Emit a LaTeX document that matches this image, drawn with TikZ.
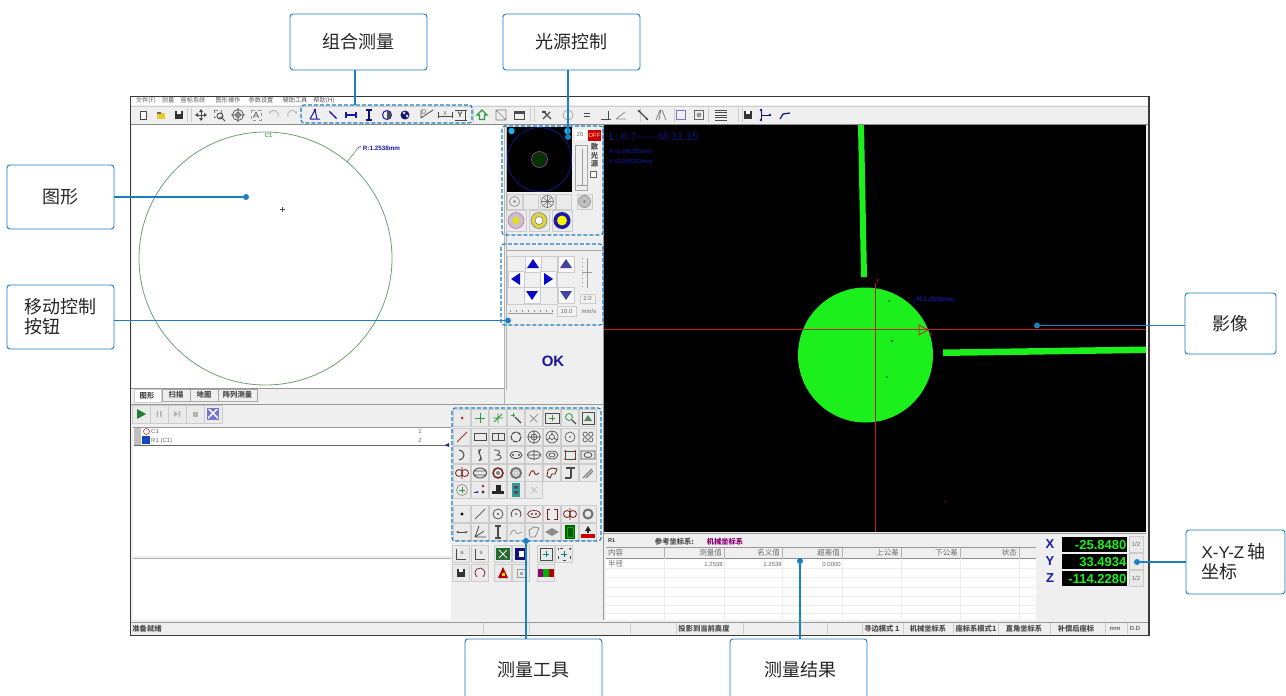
\documentclass[tikz,border=0pt]{standalone}
\usepackage{fontspec}
\setmainfont{Noto Sans CJK SC}
\newfontfamily\lib{Liberation Sans}
\usetikzlibrary{arrows.meta}
\definecolor{callblue}{HTML}{1B7FC4}
\definecolor{winbg}{HTML}{EFEFEF}
\definecolor{btnbg}{HTML}{EAEAEA}
\definecolor{btnln}{HTML}{CCCCCC}
\definecolor{edge}{HTML}{3C3A38}
\definecolor{txtg}{HTML}{6A6A6A}
\definecolor{navy}{HTML}{1A1AA8}
\definecolor{arrowb}{HTML}{0A0AC8}
\definecolor{dimnavy}{HTML}{12127E}
\definecolor{lime}{HTML}{1CF01C}
\definecolor{crossred}{HTML}{C02020}
\definecolor{circg}{HTML}{6F9F76}
\definecolor{icg}{HTML}{4A4A4A}
\definecolor{icr}{HTML}{A83030}
\definecolor{icgr}{HTML}{2E9A3E}
\tikzset{
  callout/.style={draw=callblue,fill=white,line width=0.9pt,rounded corners=3pt,inner sep=0pt,font=\fontsize{18}{20}\selectfont,text=black!85},
  calltext/.style={inner sep=0pt,font=\fontsize{18}{20}\selectfont,text=black!85},
  conn/.style={draw=callblue,line width=1.1pt},
  cdot/.style={circle,fill=callblue,minimum size=6pt,inner sep=0pt},
  dashbox/.style={draw=callblue,line width=1.1pt,dash pattern=on 4pt off 2pt,rounded corners=3pt},
  btn/.style={fill=btnbg,draw=btnln,line width=0.5pt},
  tiny/.style={inner sep=0pt,font=\fontsize{6.2}{7}\selectfont,text=black!65},
  st/.style={inner sep=0pt,font=\fontsize{7.3}{8}\selectfont\bfseries,text=black!70},
  tinyl/.style={inner sep=0pt,font=\fontsize{6}{7}\selectfont\lib,text=txtg},
  lcd/.style={inner sep=0pt,font=\fontsize{13}{14}\selectfont\lib\bfseries,text=lime,anchor=east},
  axl/.style={inner sep=0pt,font=\fontsize{13}{14}\selectfont\lib\bfseries,text=navy},
  ico/.style={line width=0.9pt,draw=icg},
}
\newcount\lbn
\newcommand\lb[4][tiny]{\global\advance\lbn 1 \node[#1,#2] (lb\the\lbn) #3 {#4};}
\newcommand\ic[3]{\begin{scope}[shift={(#1,#2)}]#3\end{scope}}
\newcommand\tb[3]{\begin{scope}[shift={(#1,#2)}]\path[btn] (-8.5,-8.5) rectangle (8.5,8.5);#3\end{scope}}
\begin{document}
\begin{tikzpicture}[x=1pt,y=-1pt]
\useasboundingbox (0,0) rectangle (1286,696);
\clip (0,0) rectangle (1286,696);
\fill[white] (0,0) rectangle (1286,696);
% window
\fill[winbg] (130,96) rectangle (1149,636);
\fill[white] (131,97) rectangle (1148,105);
% menu
\lb{}{at (146,100.5)}{文件(F)}
\lb{}{at (168,100.5)}{测量}
\lb{}{at (193,100.5)}{座标系统}
\lb{}{at (228,100.5)}{图形操作}
\lb{}{at (261,100.5)}{参数设置}
\lb{}{at (295,100.5)}{辅助工具}
\lb{}{at (324,100.5)}{帮助(H)}
% toolbar
\draw[btnln] (131,106) -- (1148,106);
\draw[black!45,line width=.8pt] (131,124.5) -- (1148,124.5);
\foreach \x in {187,191,473,530,534,640,674,708,738,742}{\draw[btnln] (\x,108) -- (\x,122);}
\ic{143}{115}{\draw[icg,line width=.7pt,fill=white] (-3,-4) rectangle (3,4);}
\ic{161}{115}{\fill[yellow!60!brown] (-4,-2) rectangle (4,4);\fill[black!60] (-4,-3) rectangle (0,-1);}
\ic{179}{115}{\fill[black!80] (-4,-4) rectangle (4,4);\fill[white] (-2,-4) rectangle (2,-1);}
\ic{201}{115}{\draw[ico] (-5,0) -- (5,0) (0,-5) -- (0,5);\fill[icg] (-6,0)--(-3,-2)--(-3,2)--cycle (6,0)--(3,-2)--(3,2)--cycle (0,-6)--(-2,-3)--(2,-3)--cycle (0,6)--(-2,3)--(2,3)--cycle;}
\ic{219}{115}{\draw[black!50,dashed,line width=.5pt] (-5,-5) rectangle (2,2);\draw[icg,line width=.9pt] (1,1) circle[radius=3] (3,3) -- (6,6);}
\ic{238}{115}{\draw[ico,line width=.7pt] (0,0) circle[radius=5.5] (0,0) circle[radius=2.5] (-7,0) -- (7,0) (0,-7) -- (0,7);}
\ic{256}{115}{\draw[black!40,dashed,line width=.5pt] (-5,-5) rectangle (5,5);\lb[inner sep=0pt,font=\fontsize{9}{9}\selectfont\lib,text=icg]{}{at (0,0)}{A}}
\ic{274}{115}{\draw[black!30,line width=.8pt,-{Stealth[length=3pt]}] (4,2) arc[start angle=27,end angle=-170,radius=4.5];}
\ic{292}{115}{\draw[black!30,line width=.8pt,-{Stealth[length=3pt]}] (-4,2) arc[start angle=153,end angle=350,radius=4.5];}
% combined measurement icons
\ic{315}{115}{\draw[navy,line width=1pt] (-5,4) -- (5,4) (-5,4) -- (0,-5) -- (2,4);\fill[navy] (0,-5) circle[radius=1.3];}
\ic{333}{115}{\draw[navy,line width=1.3pt,{Stealth[length=3pt]}-{Stealth[length=3pt]}] (-4,-4) -- (4,4);}
\ic{351}{115}{\draw[navy,line width=1.3pt] (-5,-3) -- (-5,3) (5,-3) -- (5,3) (-5,0) -- (5,0);}
\ic{369}{115}{\draw[navy!70!black,line width=1.3pt] (-3,-5) -- (3,-5) (-3,5) -- (3,5) (0,-5) -- (0,5);}
\ic{387}{115}{\draw[navy,line width=1pt] (0,0) circle[radius=4.5];\fill[black!70] (0,-4) arc[start angle=-90,end angle=90,radius=4] -- cycle;}
\ic{405}{115}{\fill[navy!70!black] (0,0) circle[radius=4.5];\fill[white!80!gray] (-1,-2) circle[radius=1.5] (2,1) circle[radius=1.5];}
\ic{427}{115}{\draw[icg,line width=.8pt] (-6,-5) -- (-6,3) (-6,3) -- (6,-5);\lb[tinyl,font=\fontsize{7}{7}\selectfont\lib]{}{at (-3,-3)}{D}}
\ic{445}{115}{\draw[icg,line width=.8pt] (-7,-3) -- (-7,3) (7,-3) -- (7,3) (-7,1) -- (7,1);\lb[tinyl,font=\fontsize{6}{7}\selectfont\lib]{}{at (0,-2)}{X}}
\ic{461}{115}{\draw[icg,line width=.8pt] (-6,-5) -- (6,-5) (-6,5) -- (6,5) (4,-5) -- (4,5);\lb[tinyl,font=\fontsize{8}{8}\selectfont\lib\bfseries,text=icg]{}{at (-1,0)}{Y}}
\ic{482}{115}{\draw[icgr,line width=1.1pt] (0,-5) -- (5,0) -- (2.5,0) -- (2.5,4.5) -- (-2.5,4.5) -- (-2.5,0) -- (-5,0) -- cycle;}
\ic{501}{115}{\draw[black!50,line width=.6pt] (-5,-5) rectangle (5,5) (-5,-5) -- (5,5);}
\ic{519}{115}{\draw[black!70,line width=.7pt] (-5,-4) rectangle (5,4);\fill[black!70] (-5,-4) rectangle (5,-1);}
\ic{547}{115}{\draw[icg,line width=1.1pt] (-4,4) -- (3,-3) (-4,-4) -- (4,4);\fill[icg] (-5,-4) rectangle (-1,-2);}
\ic{568}{115}{\draw[black!30,line width=.9pt] (0,0) circle[radius=5];}
\ic{587}{115}{\draw[icg,line width=1pt] (-3,-1.5) -- (3,-1.5) (-3,1.5) -- (3,1.5);}
\ic{606}{115}{\draw[icg,line width=1pt] (-5,4) -- (5,4) (2,-4) -- (2,4);}
\ic{621}{115}{\draw[black!45,line width=.8pt] (-5,4) -- (5,4) (-5,4) -- (4,-3);}
\ic{643}{115}{\draw[icg,line width=1.1pt] (-4,-4) -- (4,4);\fill[icg] (-4,-4) circle[radius=1.4] (4,4) circle[radius=1.4];}
\ic{661}{115}{\draw[black!50,line width=.8pt] (-5,5) -- (-1,-5) (1,-5) -- (5,5) (-2,5) -- (-.2,-5);}
\ic{681}{115}{\draw[navy!60,line width=1pt] (-4.5,-4.5) rectangle (4.5,4.5);}
\ic{699}{115}{\draw[black!60,line width=.8pt] (-4.5,-4.5) rectangle (4.5,4.5);\fill[black!40] (0,0) circle[radius=2.5];}
\ic{721}{115}{\foreach \yy in {-5,-2.5,0,2.5,5}{\draw[icg,line width=.7pt] (-6,\yy) -- (6,\yy);}}
\ic{748}{115}{\fill[black!80] (-4,-4) rectangle (4,4);\fill[white] (-2,-4) rectangle (2,-1);}
\ic{765}{115}{\draw[navy!70!black,line width=1pt] (-4,-5) -- (-4,5) (-4,0) -- (5,0);\fill[navy!70!black] (-4,-5) circle[radius=1.3] (-4,5) circle[radius=1.3] (5,0) circle[radius=1.3];}
\ic{785}{115}{\draw[navy!70!black,line width=1.2pt] (-5,4) -- (-2,-1) -- (5,-2);}
% left graphics
\fill[white] (132,125) rectangle (504,388);
\draw[circg,line width=.8pt] (265.5,258.5) circle[radius=126.5];
\lb[inner sep=0pt,font=\fontsize{6}{7}\selectfont\lib\bfseries,text=circg]{}{at (268.5,135)}{C1}
\draw[circg,line width=.7pt] (347,162) -- (358,148);
\draw[navy,line width=.5pt] (358,148) -- (361,146);
\lb[inner sep=0pt,font=\fontsize{6.3}{7}\selectfont\lib\bfseries,text=navy]{}{at (381.5,148.5)}{R:1.2538mm}
\draw[black!70,line width=.5pt] (280,209.5) -- (285,209.5) (282.5,207) -- (282.5,212);
\draw[black!40,line width=.8pt] (131,388.5) -- (504,388.5);
\draw[black!30,line width=.8pt] (504.5,125) -- (504.5,404);
% tabs
\path[fill=white,draw=btnln] (134,389) rectangle (161,402);
\path[fill=winbg,draw=black!35,line width=.5pt] (162,389) rectangle (190,401) (190,389) rectangle (218,401) (218,389) rectangle (257,401);
\lb[st]{}{at (147,396)}{图形}
\lb[st]{}{at (176,395)}{扫描}
\lb[st]{}{at (204,395)}{地图}
\lb[st]{}{at (237.5,395)}{阵列测量}
% run toolbar
\draw[black!40,line width=.8pt] (131,404) -- (603,404);
\ic{141}{414}{\path[btn] (-9,-9) rectangle (9,9);\fill[icgr!80!black] (-4,-5) -- (5,0) -- (-4,5) -- cycle;}
\ic{159}{414}{\path[btn] (-9,-9) rectangle (9,9);\fill[black!30] (-2.5,-3) rectangle (-1,3) (1,-3) rectangle (2.5,3);}
\ic{177}{414}{\path[btn] (-9,-9) rectangle (9,9);\fill[black!30] (-3,-3) -- (1,0) -- (-3,3) -- cycle (1.5,-3) rectangle (3,3);}
\ic{195}{414}{\path[btn] (-9,-9) rectangle (9,9);\fill[black!30] (-2.5,-2.5) rectangle (2.5,2.5);}
\ic{213}{414}{\path[btn] (-9,-9) rectangle (9,9);\fill[navy!60] (-6,-6) rectangle (6,6);\fill[white] (-5,-5) -- (5,5) -- (5,3) -- (-3,-5) -- cycle (-5,5) -- (5,-5) -- (3,-5) -- (-5,3) -- cycle;}
% list
\fill[white] (133,427) rectangle (451,556);
\draw[black!40,line width=.8pt] (133,427) -- (451,427);
\fill[black!25] (134,428) rectangle (141,445);
\draw[icr,line width=.6pt,fill=white] (146.5,431.5) circle[radius=3];
\fill[navy!80!cyan] (142,436) rectangle (150,444);
\lb[tinyl]{anchor=west}{at (151,431.5)}{C1}
\lb[tinyl]{anchor=west}{at (151,440.5)}{R1 (C1)}
\lb[tinyl]{}{at (420,431)}{1}
\lb[tinyl]{}{at (420,440)}{2}
\draw[black!60,line width=.7pt] (134,445) -- (449,445);
\fill[navy] (445,445) -- (449,443) -- (449,447) -- cycle;
\draw[black!30,line width=.6pt] (133,558.5) -- (451,558.5);
\fill[white] (133,559) rectangle (451,620);
% right column
\draw[black!40,line width=.8pt] (603.5,125) -- (603.5,620);
\draw[black!30,line width=.8pt] (506,125) -- (506,390);
% light panel
\fill[black] (507,127) rectangle (572,192);
\draw[navy!90!black,line width=.7pt] (539.5,159.5) circle[radius=32];
\fill[black!80!green] (539.5,159.5) circle[radius=8];
\draw[violet!80,line width=.7pt] (539.5,159.5) circle[radius=8];
\fill[cyan!90!white] (511.5,131) circle[radius=3.2] (567.5,131) circle[radius=3.2];
\path[fill=white] (575,129) rectangle (586,140);
\lb[tinyl]{}{at (580,134.5)}{26}
\fill[red!80!black] (588,130) rectangle (601,140.5);
\lb[inner sep=0pt,font=\fontsize{6}{7}\selectfont\lib,text=white!80!red]{}{at (594.5,135.5)}{OFF}
\draw[black!35,line width=.6pt] (575,145) rectangle (587,190);
\draw[black!40,line width=.8pt] (582,149) -- (582,185) (577,185.5) -- (587,185.5);
\lb[st]{}{at (594.5,147)}{散}
\lb[st]{}{at (594.5,155.5)}{光}
\lb[st]{}{at (594.5,164)}{源}
\draw[black!60,fill=white,line width=.5pt] (590.5,171) rectangle (596,177);
\foreach \x in {514.5,530.5,547.5,564}{\path[fill=btnbg,draw=btnln] (\x-7.5,194) rectangle (\x+7.5,209);}
\path[fill=btnbg,draw=btnln] (577,194) rectangle (592,209);
\draw[black!50,line width=.6pt] (514.5,201.5) circle[radius=5] (514.5,201.5) circle[radius=1];
\draw[black!55,line width=.6pt] (547.5,201.5) circle[radius=6] (541.5,201.5) -- (553.5,201.5) (547.5,195.5) -- (547.5,207.5) (543,197) -- (552,206) (543,206) -- (552,197);
\fill[black!25] (584.5,201.5) circle[radius=6];\draw[black!50,line width=.5pt] (584.5,201.5) circle[radius=6] (584.5,201.5) circle[radius=1];
\foreach \x in {516,539,562}{\path[fill=btnbg,draw=btnln] (\x-10,210) rectangle (\x+10,231);}
\fill[violet!25!gray!40] (516,220.5) circle[radius=8];\draw[violet!60,line width=.5pt] (516,220.5) circle[radius=8];\fill[yellow!90!black] (516,220.5) circle[radius=3.5];
\fill[yellow!70!gray] (539,220.5) circle[radius=8];\fill[white] (539,220.5) circle[radius=4];\draw[black!50,line width=.6pt] (539,220.5) circle[radius=8] (539,220.5) circle[radius=4];
\fill[navy] (562,220.5) circle[radius=8.5];\fill[yellow] (562,220.5) circle[radius=5];
% move panel
\draw[black!35,line width=.7pt] (506,250) -- (603,250);
\path[draw=btnln,fill=winbg] (507,256) rectangle (557,304);
\foreach \a/\b in {533/264,516/279,548/279,532/295,566/264,566/295}{\path[fill=white!70!btnbg,draw=btnln,line width=.4pt] (\a-8,\b-8) rectangle (\a+8,\b+8);}
\ic{533}{264}{\fill[arrowb] (-6,4) -- (0,-5) -- (6,4) -- cycle;}
\ic{532}{295}{\fill[arrowb] (-6,-4) -- (0,5) -- (6,-4) -- cycle;}
\ic{516}{279}{\fill[arrowb] (4,-6) -- (-5,0) -- (4,6) -- cycle;}
\ic{548}{279}{\fill[arrowb] (-4,-6) -- (5,0) -- (-4,6) -- cycle;}
\ic{566}{264}{\fill[navy!60!gray] (-6,4) -- (0,-5) -- (6,4) -- cycle;}
\ic{566}{295}{\fill[navy!60!gray] (-6,-4) -- (0,5) -- (6,-4) -- cycle;}
\draw[black!40,line width=.7pt] (587,258) -- (587,288) (582,272.5) -- (592,272.5);
\draw[black!45,line width=.9pt,dash pattern=on 1pt off 3pt] (582.5,258) -- (582.5,288);
\path[draw=btnln,fill=white!40!btnbg] (580,294) rectangle (595,303);
\lb[tinyl]{}{at (587.5,298.5)}{2.0}
\draw[black!40,line width=.6pt] (508,313.5) -- (553,313.5);
\foreach \x in {510,516,522,528,534,540,546,552}{\draw[black!45,line width=.5pt] (\x,310) -- (\x,312);}
\path[draw=btnln,fill=white!40!btnbg] (557,306) rectangle (576,316);
\lb[tinyl]{}{at (566.5,311)}{10.0}
\lb[tinyl]{}{at (589,311)}{mm/s}
\lb[inner sep=0pt,font=\fontsize{15}{16}\selectfont\lib\bfseries,text=navy!90!black]{}{at (553,361.5)}{OK}
% tool grid
\tb{462}{418}{\fill[icr] (0,0) circle[radius=1.5];}
\tb{480}{418}{\draw[icgr,line width=.8pt] (-5,0) -- (5,0) (0,-5) -- (0,5);}
\tb{498}{418}{\draw[icgr,line width=.8pt] (-5,0) -- (5,0) (0,-5) -- (0,5) (-4,4) -- (4,-4);}
\tb{516}{418}{\draw[icgr,line width=1pt] (-5,-3) -- (-1,-3) (-3,-5) -- (-3,-1);\draw[icg,line width=1.2pt] (-1,-1) -- (5,5);}
\tb{534}{418}{\draw[black!40,line width=1pt] (-4,4) -- (4,-4) (-4,-3) -- (3,4);}
\tb{552}{418}{\draw[icg,line width=.7pt] (-7,-5) rectangle (7,5);\draw[icgr,line width=.9pt] (-3,0) -- (3,0) (0,-3) -- (0,3);}
\tb{570}{418}{\draw[icgr,line width=.8pt] (-1,-1) circle[radius=3.5];\draw[icg,line width=1.2pt] (2,2) -- (6,6);}
\tb{588}{418}{\draw[icg,line width=.6pt] (-6,-6) rectangle (6,6);\fill[icgr!50!gray] (0,-3) -- (4,3) -- (-4,3) -- cycle;}
\tb{462}{437}{\draw[icr,line width=1pt] (-5,5) -- (5,-5);}
\tb{480}{437}{\draw[icg,line width=.7pt] (-6,-3.5) rectangle (6,3.5);}
\tb{498}{437}{\draw[icg,line width=.7pt] (-6,-3.5) rectangle (6,3.5) (0,-3.5) -- (0,3.5);}
\tb{516}{437}{\draw[icg,line width=1.1pt,dash pattern=on 5pt off 1pt] (0,0) circle[radius=5];}
\tb{534}{437}{\draw[icg,line width=.6pt] (0,0) circle[radius=6] (0,0) circle[radius=3] (-7,0) -- (7,0) (0,-7) -- (0,7);}
\tb{552}{437}{\draw[icg,line width=.6pt] (0,0) circle[radius=6] (0,0) circle[radius=2.5] (0,-6) -- (0,-2.5) (5,3) -- (2,1) (-5,3) -- (-2,1);}
\tb{570}{437}{\draw[icg,line width=.6pt] (0,0) circle[radius=5];\fill[icg] (0,0) circle[radius=.8];}
\tb{588}{437}{\draw[icg,line width=.6pt] (-2.8,-2.8) circle[radius=2.2] (2.8,-2.8) circle[radius=2.2] (-2.8,2.8) circle[radius=2.2] (2.8,2.8) circle[radius=2.2];}
\tb{462}{455}{\draw[icg,line width=1pt] (-3,-5) arc[start angle=-90,end angle=90,radius=5];}
\tb{480}{455}{\draw[icg,line width=.8pt] (1,-6) .. controls (-4,-2) and (4,2) .. (-1,6) (-1,-6) .. controls (-3,-1) and (3,1) .. (1,6);}
\tb{498}{455}{\draw[icg,line width=.8pt] (-4,-5) .. controls (6,-5) and (0,0) .. (-1,0) .. controls (6,0) and (4,6) .. (-4,5);}
\tb{516}{455}{\draw[icg,line width=.8pt] (0,0) ellipse[x radius=6,y radius=3.5];\fill[icg] (-3,0) circle[radius=1.1] (3,0) circle[radius=1.1];}
\tb{534}{455}{\draw[icg,line width=.7pt] (0,0) ellipse[x radius=6.5,y radius=4] (-7,0) -- (7,0) (0,-5) -- (0,5);}
\tb{552}{455}{\draw[icg,line width=.7pt] (0,0) ellipse[x radius=6,y radius=4] (0,0) ellipse[x radius=3,y radius=2];}
\tb{570}{455}{\draw[icg,line width=.8pt] (-5,-4) rectangle (5,4);\fill[icr] (-5,-4) circle[radius=1] (5,-4) circle[radius=1] (-5,4) circle[radius=1] (5,4) circle[radius=1];}
\tb{588}{455}{\draw[icg,line width=.8pt] (-7,-4) rectangle (7,4) (0,0) ellipse[x radius=4,y radius=2.5];}
\tb{462}{473}{\draw[icr!70!black,line width=.8pt] (-3,0) circle[radius=3.5] (3,0) circle[radius=3.5] (0,-6) -- (0,6);}
\tb{480}{473}{\draw[icg,line width=.9pt] (0,0) ellipse[x radius=6.5,y radius=5] (-6,-2) -- (6,-2) (-6,2) -- (6,2);}
\tb{498}{473}{\draw[icr!70!black,line width=1.5pt] (0,0) circle[radius=5];\fill[black!50] (0,0) circle[radius=2];}
\tb{516}{473}{\draw[black!55,line width=2pt] (0,0) circle[radius=5];\draw[black!40,line width=.5pt] (0,0) circle[radius=2];}
\tb{534}{473}{\draw[icr!80!black,line width=.9pt] (-5,3) .. controls (-2,-5) and (0,-3) .. (1,1) .. controls (2,3) and (3,1) .. (5,0);}
\tb{552}{473}{\draw[icr!60!black,line width=.8pt] (-4,-3) -- (0,-5) -- (5,-4) -- (3,1) -- (0,1) -- (-2,5) -- (-5,3) -- cycle;}
\tb{570}{473}{\draw[icg,line width=1.2pt] (-4,-5) -- (5,-5) (1,-5) -- (1,5) (-5,5) -- (1,5);}
\tb{588}{473}{\draw[black!50,line width=1.3pt] (-5,5) -- (4,-4) (-2,5) -- (5,-2);}
\tb{462}{490}{\draw[black!50,line width=.6pt] (0,0) circle[radius=5.5];\draw[icgr,line width=.8pt] (-3,0) -- (3,0) (0,-3) -- (0,3);}
\tb{480}{490}{\draw[navy,line width=.9pt,-{Stealth[length=3pt]}] (-6,2) -- (-1,2);\fill[icr] (3,-4) circle[radius=1.5];\fill[black!80] (3,2) circle[radius=1.7];}
\tb{498}{490}{\fill[black!85] (-2.5,-5) rectangle (2.5,1);\fill[black!85] (-6,1) rectangle (6,4);}
\tb{516}{490}{\fill[teal!80] (-4,-7) rectangle (4,7);\fill[black!70] (-2,-4) rectangle (2,-1.5) (-2,1) rectangle (2,3.5);}
\tb{534}{490}{\draw[black!25,line width=1pt] (-3,-3) -- (3,3) (-3,3) -- (3,-3);}
\tb{462}{514}{\fill[black] (0,0) circle[radius=1.7];}
\tb{480}{514}{\draw[icg,line width=.7pt] (-5,5) -- (5,-5);}
\tb{498}{514}{\draw[icg,line width=.7pt] (0,0) circle[radius=5];\fill[icg] (0,0) circle[radius=1.2];}
\tb{516}{514}{\draw[icg,line width=.8pt] (-4,3) arc[start angle=143,end angle=397,radius=5];\fill[icg] (0,0) circle[radius=1];}
\tb{534}{514}{\draw[icr!70!black,line width=.7pt] (0,0) ellipse[x radius=6.5,y radius=3.5];\fill[icg] (-2,0) circle[radius=1.2] (2,0) circle[radius=1.2];}
\tb{552}{514}{\draw[icr!70!black,line width=.8pt] (-5,-5) rectangle (5,5);\fill[btnbg] (-2,-6) rectangle (2,-4) (-2,4) rectangle (2,6);}
\tb{570}{514}{\draw[icr!70!black,line width=.8pt] (-3,0) circle[radius=3.5] (3,0) circle[radius=3.5] (0,-6) -- (0,6);}
\tb{588}{514}{\draw[black!55,line width=2pt] (0,0) circle[radius=4.5];}
\tb{462}{532}{\draw[icg,line width=.8pt,{Stealth[length=3pt]}-{Stealth[length=3pt]}] (-6,0) -- (6,0);}
\tb{480}{532}{\draw[icg,line width=.8pt] (-5,5) -- (6,5) (-5,5) -- (-1,-6) (-5,5) -- (4,-1);}
\tb{498}{532}{\draw[icg,line width=1.2pt] (-3,-6) -- (3,-6) (-3,6) -- (3,6) (0,-6) -- (0,6);}
\tb{516}{532}{\draw[black!40,line width=.8pt] (-6,3) .. controls (-3,-4) and (-1,-3) .. (0,1) .. controls (1,3) and (3,1) .. (6,0);}
\tb{534}{532}{\draw[black!45,line width=.8pt] (-5,-2) -- (0,-5) -- (5,-4) -- (3,1) -- (1,5) -- (-4,5) -- cycle;}
\tb{552}{532}{\fill[black!45] (-7,0) -- (0,-4) -- (7,0) -- (0,4) -- cycle;}
\tb{570}{532}{\fill[green!35!black] (-5,-7) rectangle (5,7);\draw[green!70!black,line width=.4pt] (-3,-5) rectangle (3,5);}
\tb{588}{532}{\fill[black!85] (0,-6) -- (3,-1) -- (-3,-1) -- cycle;\fill[black!85] (-1,-2) rectangle (1,1);\fill[red!80!black] (-7,2) rectangle (7,6);}
% lower buttons
\tb{461}{554}{\draw[icg,line width=.7pt] (-5,-5) -- (-5,5) -- (5,5);\lb[tinyl]{}{at (1,-1)}{a}}
\tb{480}{554}{\draw[icg,line width=.7pt] (-5,-5) -- (-5,5) -- (5,5);\lb[tinyl]{}{at (1,-1)}{s}}
\tb{461}{573}{\fill[black!80] (-4,-4) rectangle (4,4);\fill[white] (-2,-4) rectangle (2,-1);}
\tb{480}{573}{\draw[icr!80!black,line width=.8pt] (3,4) arc[start angle=53,end angle=-233,radius=5];}
\tb{503}{554}{\fill[icgr!70!black] (-7,-6) rectangle (7,6);\draw[white,line width=1pt] (-4,-4) -- (4,4) (-4,4) -- (4,-4);}
\tb{521}{554}{\fill[navy!70!black] (-6,-6) rectangle (6,6);\fill[white] (-2,-3) rectangle (3,3);}
\tb{503}{573}{\fill[red!70!black] (0,-6) -- (5,5) -- (-5,5) -- cycle;\fill[yellow!70!orange] (-1.5,0) rectangle (1.5,3);}
\tb{521}{573}{\draw[black!40,line width=.5pt] (-4,-4) rectangle (4,4);\fill[black!35] (-1.5,-1.5) rectangle (1.5,1.5);}
\tb{546}{554}{\draw[icg,line width=1pt] (-6,-6) rectangle (6,6);\draw[teal,line width=.8pt] (-3,0) -- (3,0) (0,-3) -- (0,3);}
\tb{564}{554}{\draw[icg,line width=1pt,dash pattern=on 3pt off 6pt,dash phase=1.5pt] (-6,-6) rectangle (6,6);\draw[teal,line width=.8pt] (-3,0) -- (3,0) (0,-3) -- (0,3);}
\tb{546}{573}{\fill[violet!90!red] (-8,-4) rectangle (-3,4);\fill[green!70!black] (-3,-4) rectangle (3,4);\fill[red!70!black] (3,-4) rectangle (8,4);}
% image view
\fill[black] (604,125) rectangle (1146,532);
\fill[lime] (858,125) -- (864,125) -- (867,277) -- (861,277) -- cycle;
\fill[lime] (865.5,355) circle[radius=67.5];
\fill[lime] (943,349.5) -- (1146,346.5) -- (1146,353) -- (943,356) -- cycle;
\fill[black!60!green] (889,301) circle[radius=.8] (892,341) circle[radius=1.3] (887,377) circle[radius=.8] (885,301) circle[radius=.4];
\fill[red!60!black] (945,501.5) circle[radius=.8];
\draw[crossred,line width=1pt] (604,329.5) -- (1146,329.5) (875.5,283) -- (875.5,532);
\draw[crossred,line width=.8pt] (919,325) -- (928,330) -- (919,335) -- cycle;
\lb[inner sep=0pt,font=\fontsize{6}{7}\selectfont\lib,text=crossred]{}{at (931,334)}{X}
\lb[inner sep=0pt,font=\fontsize{6}{7}\selectfont\lib,text=crossred]{}{at (877.5,281)}{Y}
\draw[dimnavy,line width=.5pt] (913,304) -- (917,297);
\lb[inner sep=0pt,font=\fontsize{6.3}{7}\selectfont\lib\bfseries,text=navy!90!black,anchor=west]{}{at (917,299)}{R:1.2538mm}
\lb[inner sep=0pt,font=\fontsize{11}{12}\selectfont\lib,text=dimnavy,anchor=west]{}{at (609,137)}{L: 0.7------M:31.15}
\lb[inner sep=0pt,font=\fontsize{6}{7}\selectfont\lib\bfseries,text=dimnavy,anchor=west]{}{at (609,151)}{X=0.006293mm}
\lb[inner sep=0pt,font=\fontsize{6}{7}\selectfont\lib\bfseries,text=dimnavy,anchor=west]{}{at (609,161)}{Y=0.006293mm}
% results
\draw[black!40,line width=.8pt] (604,533) -- (1146,533);
\lb[tinyl,text=black!80,font=\fontsize{5.5}{6}\selectfont\lib\bfseries]{anchor=west}{at (608,541)}{R1}
\lb[st]{}{at (674.5,541.5)}{参考坐标系:}
\lb[st,text=violet!90!red]{}{at (725,541.5)}{机械坐标系}
\fill[white] (606,558) rectangle (1036,620);
\draw[black!40,line width=.7pt] (606,547.5) -- (1036,547.5);
\draw[black!45,line width=.8pt] (606,558) -- (1036,558);
\foreach \yy in {568,577,587,596,605,613}{\draw[black!7,line width=.5pt] (606,\yy) -- (1036,\yy);}
\foreach \x in {664,724,782,842,901,960,1019}{\draw[black!30,line width=.5pt] (\x,548) -- (\x,558);\draw[black!7,line width=.5pt] (\x,558) -- (\x,620);}
\tikzset{hdr/.style={inner sep=0pt,font=\fontsize{7.5}{8}\selectfont,text=txtg,anchor=east}}
\lb[hdr]{anchor=west}{at (608,552.5)}{内容}
\lb[hdr]{}{at (722,552.5)}{测量值}
\lb[hdr]{}{at (780,552.5)}{名义值}
\lb[hdr]{}{at (840,552.5)}{超差值}
\lb[hdr]{}{at (899,552.5)}{上公差}
\lb[hdr]{}{at (958,552.5)}{下公差}
\lb[hdr]{}{at (1017,552.5)}{状态}
\lb[hdr]{anchor=west}{at (608,564)}{半径}
\lb[tinyl]{anchor=east}{at (723,564.5)}{1.2538}
\lb[tinyl]{anchor=east}{at (782,564.5)}{1.2538}
\lb[tinyl]{anchor=east}{at (841,564.5)}{0.0000}
% coordinates
\lb[axl]{}{at (1050,544)}{X}
\lb[axl]{}{at (1050,561)}{Y}
\lb[axl]{}{at (1050,578)}{Z}
\fill[black] (1062,537) rectangle (1127,552);
\fill[black] (1062,554) rectangle (1127,569);
\fill[black] (1062,571) rectangle (1127,586);
\lb[lcd]{}{at (1126.5,544.7)}{-25.8480}
\lb[lcd]{}{at (1126.5,562)}{33.4934}
\lb[lcd]{}{at (1126.5,579)}{-114.2280}
\foreach \yy in {544.5,561.5,578.5}{\path[fill=btnbg,draw=btnln] (1129,\yy-8) rectangle (1143,\yy+8);}
\lb[tinyl]{}{at (1136,544.5)}{1/2}
\lb[tinyl]{}{at (1136,578.5)}{1/2}
% status bar
\draw[black!40,line width=.7pt] (131,622) -- (1148,622);
\foreach \x in {483,529,630,676,743,827,862,903,953,998,1050,1105,1127}{\draw[black!20,line width=.5pt] (\x,623) -- (\x,634);}
\lb[st]{}{at (147,628.5)}{准备就绪}
\lb[st]{}{at (704,628.5)}{投影到当前高度}
\lb[st]{}{at (882,628.5)}{寻边模式 1}
\lb[st]{}{at (928,628.5)}{机械坐标系}
\lb[st]{}{at (976,628.5)}{座标系模式1}
\lb[st]{}{at (1024,628.5)}{直角坐标系}
\lb[st]{}{at (1076,628.5)}{补偿后座标}
\lb[tinyl,font=\fontsize{6}{7}\selectfont\lib\bfseries]{}{at (1115,628.5)}{mm}
\lb[tinyl,font=\fontsize{6}{7}\selectfont\lib\bfseries]{}{at (1135,628.5)}{D.D}
% window border
\draw[edge,line width=1.6pt] (130.5,96.5) rectangle (1149,635.5);
% dashed groups
\draw[dashbox] (301,105) rectangle (472,123);
\draw[dashbox] (502,126) rectangle (603,235);
\draw[dashbox] (501,244) rectangle (603,325);
\draw[dashbox] (452,408) rectangle (601,541);
% callouts
\node[callout,minimum width=137pt,minimum height=56pt] (zuhe) at (358.5,42) {组合测量};
\node[callout,minimum width=137pt,minimum height=56pt] (guang) at (571.5,42) {光源控制};
\node[callout,minimum width=107pt,minimum height=64pt] (tuxing) at (60.5,197) {图形};
\node[callout,minimum width=107pt,minimum height=64pt,align=left,text width=72pt] (yidong) at (60.5,317) {移动控制\\按钮};
\node[callout,minimum width=91pt,minimum height=61pt] (yingxiang) at (1230.5,323.5) {影像};
\node[callout,minimum width=99pt,minimum height=64pt,align=left,text width=68pt] (xyz) at (1235.5,562) {{\fontsize{17}{20}\selectfont\lib X-Y-Z}\,轴\\坐标};
\node[callout,minimum width=137pt,minimum height=66pt] (gongju) at (533.5,672) {};
\node[calltext] (gongjut) at (533.5,670) {测量工具};
\node[callout,minimum width=137pt,minimum height=66pt] (jieguo) at (798.5,672) {};
\node[calltext] (jieguot) at (800.5,670) {测量结果};
% connector ends
\coordinate (zuhep) at (355,105);
\node[cdot] (guangp) at (568,137) {};
\node[cdot] (tuxingp) at (246,197) {};
\node[cdot] (yidongp) at (508,320.5) {};
\node[cdot] (yingp) at (1037,325.5) {};
\node[cdot] (xyzp) at (1137,562) {};
\node[cdot] (gongjup) at (526,541) {};
\node[cdot] (jieguop) at (800,561) {};
\draw[conn] (zuhep |- zuhe.south) -- (zuhep);
\draw[conn] (guangp |- guang.south) -- (guangp);
\draw[conn] (tuxing.east |- tuxingp) -- (tuxingp);
\draw[conn] (yidong.east |- yidongp) -- (yidongp);
\draw[conn] (yingxiang.west |- yingp) -- (yingp);
\draw[conn] (xyz.west |- xyzp) -- (xyzp);
\draw[conn] (gongjup |- gongju.north) -- (gongjup);
\draw[conn] (jieguop |- jieguo.north) -- (jieguop);
\end{tikzpicture}
\end{document}
